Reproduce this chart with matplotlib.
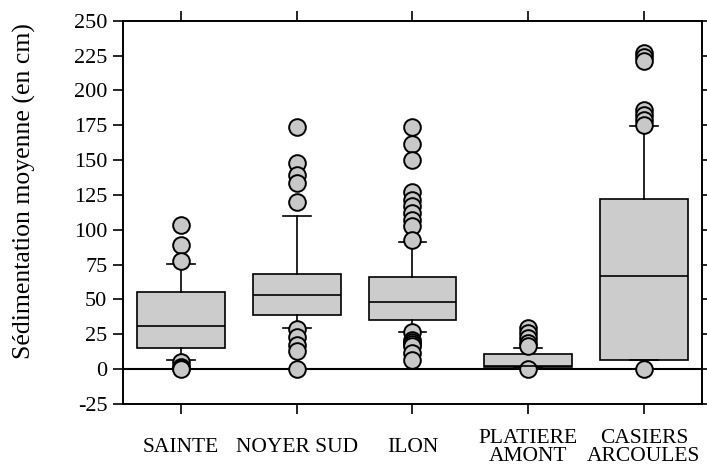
import matplotlib
matplotlib.use("Agg")
import matplotlib.pyplot as plt

plt.rcParams['font.family'] = ['Liberation Serif', 'DejaVu Serif']

sites = ["SAINTE", "NOYER SUD", "ILON", "PLATIERE\nAMONT", "CASIERS\nARCOULES"]
q1 = [15.2, 38.6, 35.3, 1.5, 6.8]
med = [31.2, 53.0, 48.2, 2.0, 66.9]
q3 = [55.4, 68.3, 65.9, 11.1, 122.3]
whislo = [6.8, 29.6, 26.7, 1.5, 6.8]
whishi = [75.7, 109.9, 91.2, 15.2, 174.2]
outliers = [
    [103.2, 88.8, 77.8, 4.9, 1.5, 0.5, 0.0],
    [173.5, 148.0, 139.0, 133.6, 119.7, 28.5, 22.8, 17.6, 12.8, 0.0],
    [173.5, 161.8, 150.3, 127.1, 121.6, 116.8, 112.0, 107.2, 102.4, 92.4,
     27.0, 21.2, 19.5, 18.0, 16.4, 11.6, 6.8],
    [29.5, 26.0, 22.4, 18.8, 16.5, 0.0],
    [226.8, 223.9, 220.8, 186.1, 182.6, 179.0, 175.4, 0.0],
]
yticks = [-25, 0, 25, 50, 75, 100, 125, 150, 175, 200, 225, 250]
ylabel = "Sédimentation moyenne (en cm)"

stats = []
for i in range(len(sites)):
    stats.append(dict(label=sites[i], q1=q1[i], med=med[i], q3=q3[i],
                      whislo=whislo[i], whishi=whishi[i], fliers=outliers[i]))

fig = plt.figure(figsize=(7.07, 4.68), dpi=100)
ax = fig.add_axes([0.1744, 0.1368, 0.9925 - 0.1744, 0.9558 - 0.1368])

ax.axhline(0, color='black', lw=1.5, zorder=1)

lw = 1.2
ax.bxp(stats, positions=range(1, len(sites) + 1), widths=0.76,
       capwidths=0.24, patch_artist=True, showfliers=True,
       boxprops=dict(facecolor='#cccccc', edgecolor='black', linewidth=lw),
       medianprops=dict(color='black', linewidth=lw),
       whiskerprops=dict(color='black', linewidth=lw),
       capprops=dict(color='black', linewidth=lw),
       flierprops=dict(marker='o', markersize=12, markerfacecolor='#c8c8c8',
                       markeredgecolor='black', markeredgewidth=1.4,
                       linestyle='none'),
       zorder=2)

ax.set_xlim(0.5, 5.5)
ax.set_ylim(-25, 250)
ax.set_yticks(yticks)
ax.set_yticklabels([str(t) for t in yticks])
ax.set_xticks(range(1, len(sites) + 1))
ax.set_xticklabels(sites)

for s in ax.spines.values():
    s.set_linewidth(1.4)

ax.tick_params(axis='both', direction='out', length=7, width=1.2,
               top=True, right=True)
ax.tick_params(axis='y', pad=4.5, labelsize=16)
ax.tick_params(axis='x', pad=24.5, labelsize=15.5)
for t in ax.get_xticklabels():
    t.set_va('center')
    t.set_multialignment('center')
    t.set_linespacing(0.9)

ax.set_ylabel(ylabel, fontsize=18.5)
ax.yaxis.set_label_coords((36 - 123.3) / 578.4, 0.556)

fig.savefig("out.png", dpi=100)
